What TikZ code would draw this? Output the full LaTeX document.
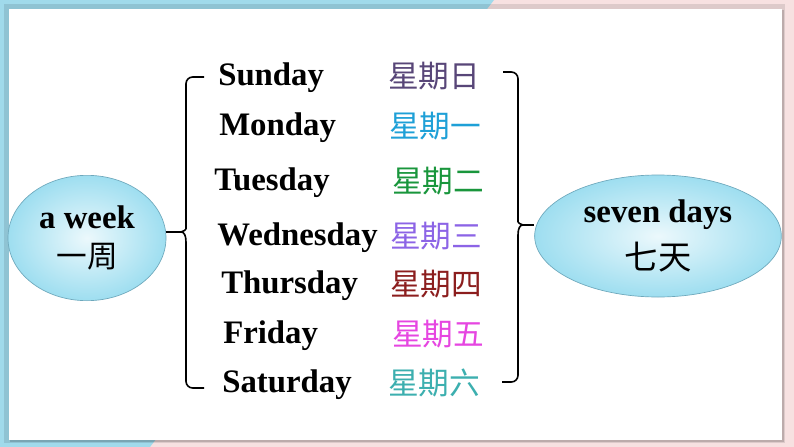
\documentclass[tikz,border=0pt]{standalone}
\usepackage{fontspec}
\setmainfont{Liberation Serif}
\newfontfamily\cjk{Noto Sans CJK SC}
\usetikzlibrary{shapes.geometric}
\definecolor{bgblue}{RGB}{160,218,235}
\definecolor{bgpink}{RGB}{247,225,225}
\definecolor{ovalblue}{RGB}{158,222,240}
\definecolor{ovalline}{RGB}{110,168,188}
\definecolor{cnsun}{RGB}{88,70,120}
\definecolor{cnmon}{RGB}{30,160,215}
\definecolor{cntue}{RGB}{25,150,60}
\definecolor{cnwed}{RGB}{140,100,230}
\definecolor{cnthu}{RGB}{140,30,30}
\definecolor{cnfri}{RGB}{230,70,225}
\definecolor{cnsat}{RGB}{60,175,175}

\begin{document}
\begin{tikzpicture}[x=0.75pt,y=-0.75pt,
    day/.style={anchor=base west,inner sep=0pt,font=\fontsize{24.6}{28}\selectfont\bfseries},
    cnday/.style={anchor=base west,inner sep=0pt,yshift=-1.5pt,font=\fontsize{23}{28}\selectfont\cjk},
    oval/.style={ellipse,draw=ovalline,line width=0.5pt,inner sep=0pt,align=center,
      inner color=white!80!ovalblue,outer color=ovalblue,
      font=\fontsize{24.6}{29}\selectfont\bfseries},
    brace/.style={line width=1.2pt,rounded corners=5pt}]
  \useasboundingbox (0,0) rectangle (794,447);
  \fill[bgpink] (0,0) rectangle (794,447);
  \fill[bgblue] (0,0) -- (494,0) -- (150,447) -- (0,447) -- cycle;
  \fill[black,opacity=0.1] (4,4) rectangle (785,443);
  \fill[black,opacity=0.15] (10,10) rectangle (784,442);
  \fill[white] (9,9) rectangle (782,440);

  \node[oval,minimum width=118.5pt,minimum height=94pt] (week) at (87,238)
    {a week\\{\cjk\mdseries\fontsize{23}{28}\selectfont 一周}};
  \node[oval,minimum width=185pt,minimum height=91.5pt] (days) at (658,236)
    {seven days\\[6pt]{\cjk\mdseries\fontsize{25}{28}\selectfont 七天}};

  \foreach \name/\dx/\cname/\cx/\col/\by [count=\i] in {%
      Sunday/218/星期日/388/cnsun/85,
      Monday/219/星期一/389/cnmon/135,
      Tuesday/214/星期二/392/cntue/190,
      Wednesday/217/星期三/390/cnwed/245,
      Thursday/221/星期四/390/cnthu/293,
      Friday/223/星期五/392/cnfri/343,
      Saturday/222/星期六/388/cnsat/392} {%
    \node[day] (d\i) at (\dx,\by) {\name};
    \node[cnday,text=\col] (c\i) at (\cx,\by) {\cname};
  }

  \coordinate (lnotch) at (181,232);
  \coordinate (rnotch) at (523,225);
  \draw[brace] (204,77) -- (186,77) -- (186,222) [sharp corners]
    .. controls (186,229) and (184,232) .. (lnotch)
    .. controls (184,232) and (186,235) .. (186,242) [rounded corners=5pt]
    -- (186,388) -- (204,388);
  \draw[line width=1.2pt] (lnotch) -- (lnotch -| week.east);
  \draw[brace] (503,72) -- (518,72) -- (518,215) [sharp corners]
    .. controls (518,222) and (520,225) .. (rnotch)
    .. controls (520,225) and (518,228) .. (518,235) [rounded corners=5pt]
    -- (518,382) -- (502,382);
  \draw[line width=1.2pt] (rnotch) -- (rnotch -| days.west);
\end{tikzpicture}
\end{document}
